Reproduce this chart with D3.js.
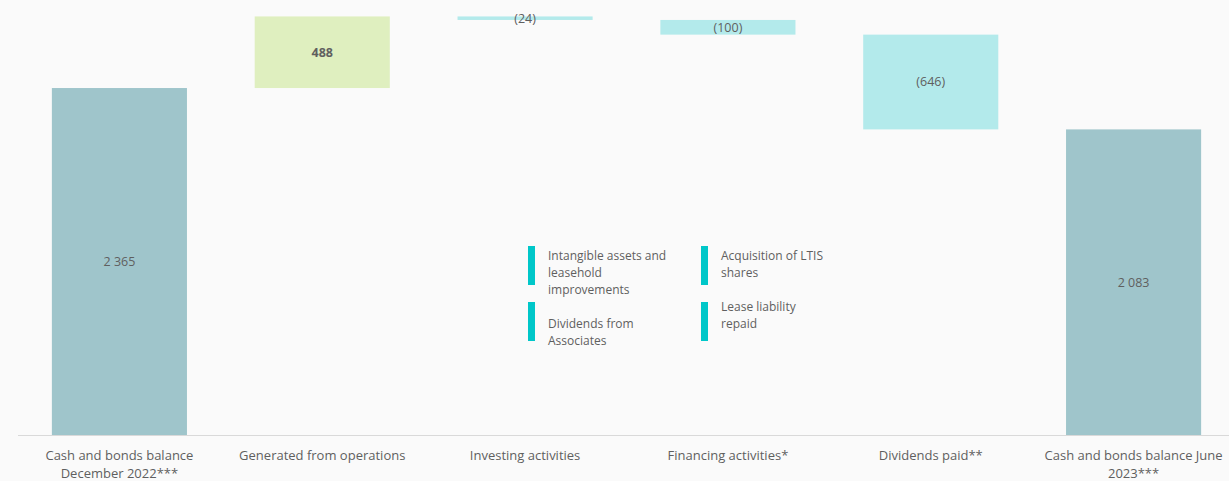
<!DOCTYPE html>
<html>
<head>
<meta charset="utf-8">
<script src="https://cdn.jsdelivr.net/npm/d3@7"></script>
<style>
  body { margin: 0; background: #fafafa; }
  svg { display: block; font-family: "Open Sans", sans-serif; }
</style>
</head>
<body>
<div id="main"></div>
<script>
var ctx = { w: 1229, h: 481 };

// categories and values (EUR m style waterfall)
var categories = ["Cash and bonds balance December 2022***", "Generated from operations",
                  "Investing activities", "Financing activities*", "Dividends paid**",
                  "Cash and bonds balance June 2023***"];
var values = [2365, 488, -24, -100, -646, 2083];
var kinds = ["total", "delta", "delta", "delta", "delta", "total"];
var valueLabels = ["2 365", "488", "(24)", "(100)", "(646)", "2 083"];

// annotation items shown in the middle of the chart
var notes = [
  {col: 0, row: 0, lines: ["Intangible assets and", "leasehold", "improvements"]},
  {col: 0, row: 1, lines: ["", "Dividends from", "Associates"]},
  {col: 1, row: 0, lines: ["Acquisition of LTIS", "shares"]},
  {col: 1, row: 1, lines: ["Lease liability", "repaid"]}
];

var colors = {total: "#9fc5cb", up: "#dfefbf", down: "#b3eaeb", note: "#00c7c9", text: "#5f5f5f"};

// build running start / end for each step
var steps = [];
var running = 0;
values.forEach(function(v, i){
  var s, e;
  if (kinds[i] === "total") { s = 0; e = v; running = v; }
  else { s = running; e = running + v; running = e; }
  steps.push({cat: categories[i], start: s, end: e, value: v, kind: kinds[i], label: valueLabels[i]});
});

var svg = d3.select("#main").append("svg")
  .attr("width", ctx.w).attr("height", ctx.h);

var x = d3.scaleBand().domain(categories)
  .range([18, 1235]).paddingInner(0.334).paddingOuter(0.167);
var y = d3.scaleLinear().domain([0, 2965]).range([435, 0]);

// bars
svg.append("g").selectAll("rect")
  .data(steps)
  .enter()
  .append("rect")
  .attr("x", function(d){ return x(d.cat); })
  .attr("width", x.bandwidth())
  .attr("y", function(d){ return y(Math.max(d.start, d.end)); })
  .attr("height", function(d){ return Math.abs(y(d.start) - y(d.end)); })
  .attr("fill", function(d){
    if (d.kind === "total") return colors.total;
    return d.value >= 0 ? colors.up : colors.down;
  });

// value labels, centred in each bar
svg.append("g").selectAll("text")
  .data(steps)
  .enter()
  .append("text")
  .attr("x", function(d){ return x(d.cat) + x.bandwidth()/2; })
  .attr("y", function(d){ return (y(d.start) + y(d.end))/2; })
  .attr("dy", "0.35em")
  .attr("text-anchor", "middle")
  .attr("font-size", 12.5)
  .attr("font-weight", function(d){ return d.kind === "delta" && d.value > 0 ? "bold" : "normal"; })
  .attr("fill", colors.text)
  .text(function(d){ return d.label; });

// x axis line + wrapped category labels
svg.append("line")
  .attr("x1", 18).attr("x2", ctx.w)
  .attr("y1", y(0) + 0.5).attr("y2", y(0) + 0.5)
  .attr("stroke", "#d9d9d9");

var wrap = function(sel, width){
  sel.each(function(){
    var t = d3.select(this);
    var words = t.text().split(" ");
    var xx = t.attr("x");
    t.text(null);
    var line = [];
    var tspan = t.append("tspan").attr("x", xx).attr("dy", 0);
    words.forEach(function(w){
      line.push(w);
      tspan.text(line.join(" "));
      if (tspan.node().getComputedTextLength() > width && line.length > 1) {
        line.pop();
        tspan.text(line.join(" "));
        line = [w];
        tspan = t.append("tspan").attr("x", xx).attr("dy", "1.38em").text(w);
      }
    });
  });
};

svg.append("g").selectAll("text")
  .data(categories)
  .enter()
  .append("text")
  .attr("x", function(d){ return x(d) + x.bandwidth()/2; })
  .attr("y", 460)
  .attr("text-anchor", "middle")
  .attr("font-size", 13)
  .attr("fill", colors.text)
  .text(function(d){ return d; })
  .call(wrap, x.step() * 0.95);

// annotation block
var noteX = d3.scaleOrdinal().domain([0, 1]).range([528, 701]);
var noteY = d3.scaleOrdinal().domain([0, 1]).range([246, 302]);
var noteTextTop = d3.scaleOrdinal().domain([0, 1]).range([14, 9]);
var ng = svg.append("g").selectAll("g")
  .data(notes)
  .enter()
  .append("g")
  .attr("transform", function(d){ return "translate(" + noteX(d.col) + "," + noteY(d.row) + ")"; });
ng.append("rect")
  .attr("width", 7).attr("height", 39)
  .attr("fill", colors.note);
ng.append("text")
  .attr("font-size", 12)
  .attr("fill", colors.text)
  .each(function(d){
    var top = noteTextTop(d.row);
    d3.select(this).selectAll("tspan")
      .data(d.lines)
      .enter()
      .append("tspan")
      .attr("x", 20)
      .attr("y", function(l, i){ return top + i*17; })
      .text(function(l){ return l; });
  });
</script>
</body>
</html>
